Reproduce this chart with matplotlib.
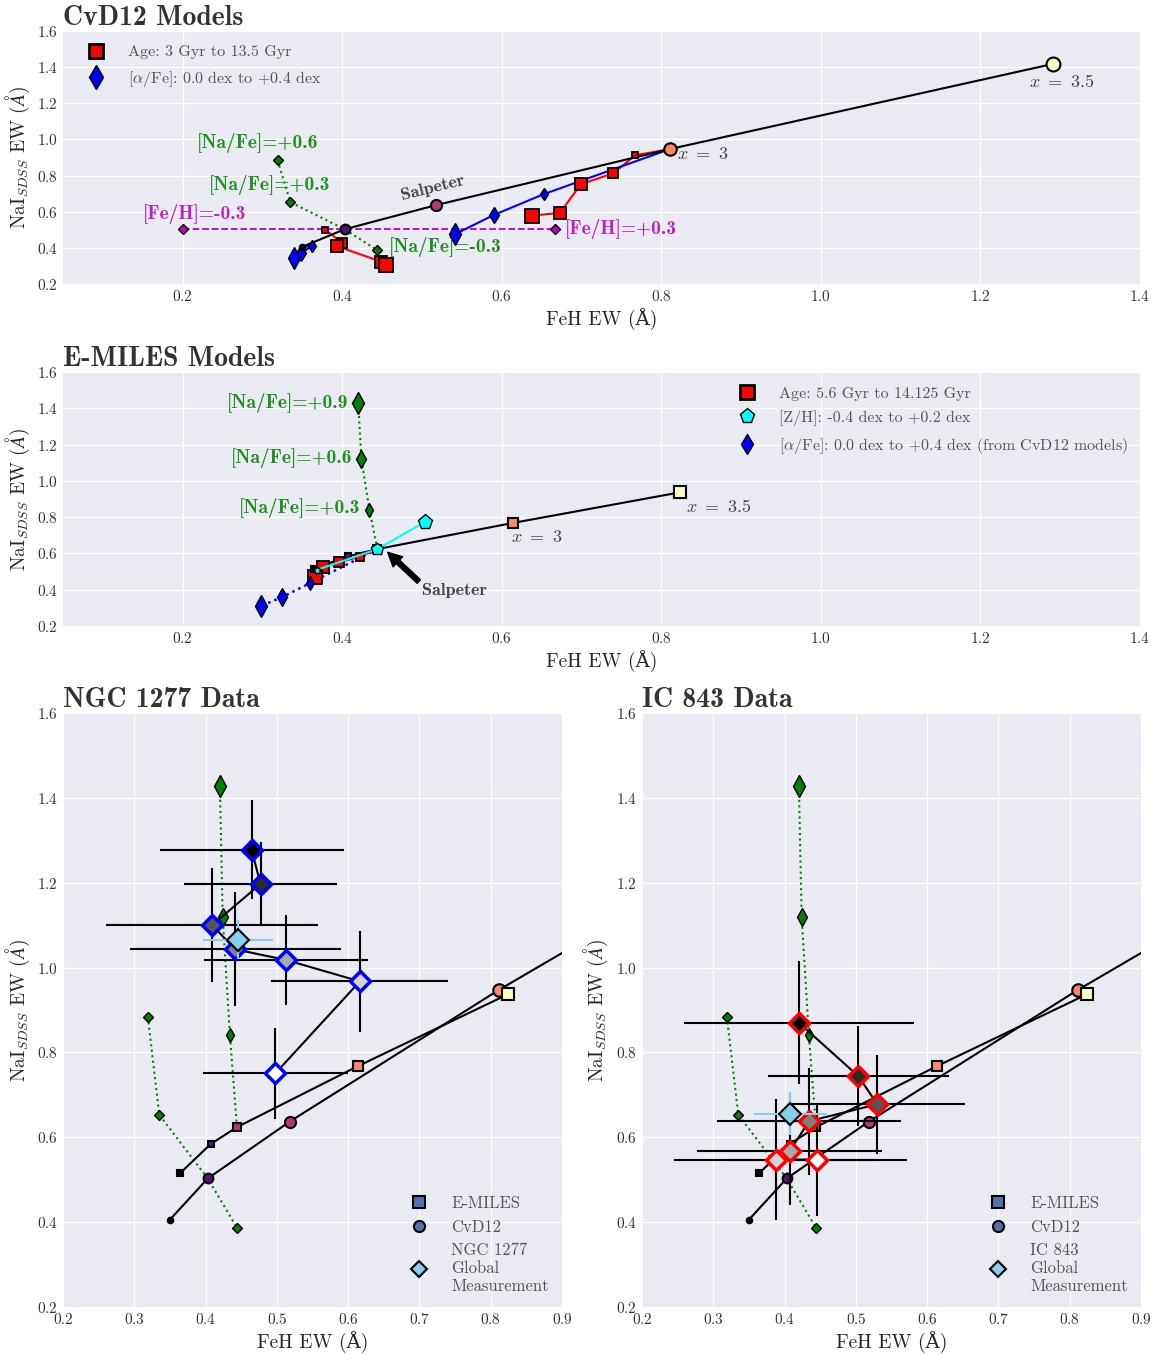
import numpy as np
import matplotlib
matplotlib.use('Agg')
import matplotlib.pyplot as plt
from matplotlib.lines import Line2D

plt.style.use('seaborn-v0_8-darkgrid')
plt.rcParams['font.family'] = ['cmr10', 'DejaVu Serif']
plt.rcParams['mathtext.fontset'] = 'cm'
plt.rcParams['axes.formatter.use_mathtext'] = True
plt.rcParams['axes.unicode_minus'] = False

# ---- CvD12 models ----
cvd_imf_feh = [0.350, 0.403, 0.518, 0.811, 1.291]
cvd_imf_nai = [0.406, 0.503, 0.637, 0.947, 1.418]
cvd_imf_ms = [4, 7, 8, 9, 10]

cvd_age1_feh = [0.379, 0.400, 0.393, 0.449, 0.455]
cvd_age1_nai = [0.499, 0.428, 0.410, 0.323, 0.305]
cvd_age2_feh = [0.767, 0.740, 0.699, 0.673, 0.638]
cvd_age2_nai = [0.912, 0.813, 0.752, 0.594, 0.578]
cvd_age_ms = [5, 7, 8, 9, 10]

cvd_alpha1_feh = [0.362, 0.348, 0.339]
cvd_alpha1_nai = [0.410, 0.370, 0.342]
cvd_alpha2_feh = [0.653, 0.590, 0.541]
cvd_alpha2_nai = [0.698, 0.582, 0.475]
cvd_alpha_ms = [6, 8, 11]

cvd_na_feh = [0.319, 0.335, 0.444]
cvd_na_nai = [0.884, 0.653, 0.387]
cvd_feh_feh = [0.200, 0.667]
cvd_feh_nai = [0.503, 0.503]

# ---- E-MILES models ----
em_imf_feh = [0.364, 0.407, 0.444, 0.614, 0.824]
em_imf_nai = [0.515, 0.584, 0.624, 0.768, 0.937]
em_imf_ms = [4, 5, 6, 7, 8]

em_age_feh = [0.422, 0.396, 0.376, 0.366]
em_age_nai = [0.582, 0.551, 0.524, 0.472]
em_age_ms = [6, 7, 9, 10]

em_zh_feh = [0.368, 0.504]
em_zh_nai = [0.509, 0.774]
em_zh_ms = [5, 11]

em_alpha_feh = [0.359, 0.325, 0.298]
em_alpha_nai = [0.435, 0.360, 0.310]
em_alpha_ms = [7, 9, 11]

em_na_feh = [0.434, 0.424, 0.420]
em_na_nai = [0.842, 1.119, 1.428]
em_na_ms = [7, 9, 11]

# ---- data ----
ngc_feh = [0.4645, 0.477, 0.409, 0.4416, 0.5126, 0.6164, 0.498]
ngc_nai = [1.278, 1.197, 1.100, 1.043, 1.018, 0.9675, 0.751]
ngc_feh_err = [0.129, 0.108, 0.149, 0.148, 0.115, 0.124, 0.102]
ngc_nai_err = [0.117, 0.098, 0.134, 0.134, 0.107, 0.119, 0.107]
ngc_glob = [0.445, 1.066, 0.049, 0.045]

ic_feh = [0.420, 0.5035, 0.530, 0.4344, 0.4073, 0.3873, 0.446]
ic_nai = [0.870, 0.744, 0.678, 0.638, 0.568, 0.5475, 0.5475]
ic_feh_err = [0.161, 0.127, 0.1225, 0.129, 0.130, 0.142, 0.125]
ic_nai_err = [0.145, 0.118, 0.117, 0.126, 0.128, 0.143, 0.132]
ic_glob = [0.408, 0.656, 0.051, 0.050]

imf_cols = plt.cm.magma([0.0, 0.25, 0.5, 0.75, 1.0])
grn_txt = '#1f8f1f'
mag_txt = '#c020c0'
lab_txt = '#444444'
ylab = r'NaI$_{SDSS}$ EW ($\AA$)'
xlab = 'FeH EW (Å)'


def markers(ax, x, y, ms, marker, fc, ec='k', mew=1.2, z=5):
    for i in range(len(x)):
        c = fc[i] if isinstance(fc, (list, np.ndarray)) else fc
        ax.plot(x[i], y[i], marker=marker, ms=ms[i], mfc=c, mec=ec, mew=mew,
                ls='none', zorder=z)


def cvd_imf(ax):
    ax.plot(cvd_imf_feh, cvd_imf_nai, 'k-', lw=1.5, zorder=3)
    markers(ax, cvd_imf_feh, cvd_imf_nai, cvd_imf_ms, 'o', list(imf_cols), mew=1.5, z=6)


def cvd_na(ax):
    xs = cvd_na_feh[:2] + [cvd_imf_feh[1]] + cvd_na_feh[2:]
    ys = cvd_na_nai[:2] + [cvd_imf_nai[1]] + cvd_na_nai[2:]
    ax.plot(xs, ys, ':', color='green', lw=1.5, zorder=2)
    markers(ax, cvd_na_feh, cvd_na_nai, [5, 5, 5], 'D', 'green', mew=1)


def em_imf(ax):
    ax.plot(em_imf_feh, em_imf_nai, 'k-', lw=1.5, zorder=3)
    markers(ax, em_imf_feh, em_imf_nai, em_imf_ms, 's', list(imf_cols), mew=1.5, z=6)


def em_na(ax):
    ax.plot([em_imf_feh[2]] + em_na_feh, [em_imf_nai[2]] + em_na_nai, ':',
            color='green', lw=1.5, zorder=2)
    markers(ax, em_na_feh, em_na_nai, em_na_ms, 'd', 'green', mew=1)


def grey_legend(leg):
    for t in leg.get_texts():
        t.set_color('#555555')


fig = plt.figure(figsize=(11.61, 13.55), dpi=100)
ax1 = fig.add_axes([0.0543, 0.7904, 0.9276, 0.1867])
ax2 = fig.add_axes([0.0543, 0.5380, 0.9276, 0.1875])
ax3 = fig.add_axes([0.0543, 0.0354, 0.4298, 0.4384])
ax4 = fig.add_axes([0.5530, 0.0354, 0.4298, 0.4384])

title_kw = dict(loc='left', fontfamily='cmb10', fontsize=20, color='#333333', pad=3)
bold = dict(fontfamily='cmb10', fontsize=14)

# ---------------- CvD12 panel ----------------
ax = ax1
ax.plot(cvd_feh_feh[:1] + [cvd_imf_feh[1]] + cvd_feh_feh[1:], [0.503] * 3, '--',
        color='m', lw=1.3, zorder=2)
markers(ax, cvd_feh_feh, cvd_feh_nai, [5, 5], 'D', 'm', mew=1)
cvd_na(ax)
ax.plot(cvd_age1_feh, cvd_age1_nai, 'r-', lw=1.5, zorder=3)
ax.plot([cvd_imf_feh[3]] + cvd_age2_feh, [cvd_imf_nai[3]] + cvd_age2_nai, 'r-', lw=1.5, zorder=3)
ax.plot([cvd_imf_feh[0]] + cvd_alpha1_feh, [cvd_imf_nai[0]] + cvd_alpha1_nai, 'b-', lw=1.5, zorder=3)
ax.plot([cvd_imf_feh[3]] + cvd_alpha2_feh, [cvd_imf_nai[3]] + cvd_alpha2_nai, 'b-', lw=1.5, zorder=3)
cvd_imf(ax)
markers(ax, cvd_age1_feh, cvd_age1_nai, cvd_age_ms, 's', 'red', mew=1.3)
markers(ax, cvd_age2_feh, cvd_age2_nai, cvd_age_ms, 's', 'red', mew=1.3)
markers(ax, cvd_alpha1_feh, cvd_alpha1_nai, cvd_alpha_ms, 'd', 'blue', mew=1)
markers(ax, cvd_alpha2_feh, cvd_alpha2_nai, cvd_alpha_ms, 'd', 'blue', mew=1)

ax.text(0.294, 0.980, '[Na/Fe]=+0.6', color=grn_txt, ha='center', va='center', **bold)
ax.text(0.309, 0.748, '[Na/Fe]=+0.3', color=grn_txt, ha='center', va='center', **bold)
ax.text(0.529, 0.405, '[Na/Fe]=-0.3', color=grn_txt, ha='center', va='center', **bold)
ax.text(0.215, 0.587, '[Fe/H]=-0.3', color=mag_txt, ha='center', va='center', **bold)
ax.text(0.749, 0.504, '[Fe/H]=+0.3', color=mag_txt, ha='center', va='center', **bold)
ax.text(0.513, 0.731, 'Salpeter', color=lab_txt, ha='center', va='center', rotation=14,
        fontfamily='cmb10', fontsize=13)
ax.text(0.852, 0.919, r'$x\ =\ 3$', color=lab_txt, ha='center', va='center', fontsize=13)
ax.text(1.302, 1.323, r'$x\ =\ \mathbf{3.5}$', color=lab_txt, ha='center', va='center', fontsize=13)

h1 = [Line2D([], [], marker='s', ls='none', mfc='red', mec='k', mew=2, ms=10),
      Line2D([], [], marker='d', ls='none', mfc='blue', mec='k', mew=1, ms=12)]
leg = ax.legend(h1, ['Age: 3 Gyr to 13.5 Gyr', r'[$\alpha$/Fe]: 0.0 dex to +0.4 dex'],
                loc='upper left', bbox_to_anchor=(0.012, 0.992), fontsize=11.5,
                frameon=False, handlelength=1.0, handletextpad=1.5,
                labelspacing=0.6, borderaxespad=0.35)
grey_legend(leg)
ax.set_xlim(0.05, 1.4)
ax.set_ylim(0.2, 1.6)
ax.set_title('CvD12 Models', **title_kw)

# ---------------- E-MILES panel ----------------
ax = ax2
em_na(ax)
base_x, base_y = em_imf_feh[2], em_imf_nai[2]
ax.plot([base_x] + em_alpha_feh, [base_y] + em_alpha_nai, ':', color='blue', lw=1.8, zorder=3)
ax.plot([base_x] + em_age_feh, [base_y] + em_age_nai, 'r-', lw=1.5, zorder=3)
em_imf(ax)
markers(ax, em_age_feh, em_age_nai, em_age_ms, 's', 'red', mew=1.3)
markers(ax, em_alpha_feh, em_alpha_nai, em_alpha_ms, 'd', 'blue', mew=1)
ax.plot([em_zh_feh[0], base_x, em_zh_feh[1]], [em_zh_nai[0], base_y, em_zh_nai[1]],
        '-', color='cyan', lw=1.5, zorder=7)
markers(ax, em_zh_feh + [base_x], em_zh_nai + [base_y], em_zh_ms + [9], 'p', 'cyan', mew=1, z=8)

ax.text(0.408, 1.428, '[Na/Fe]=+0.9', color=grn_txt, ha='right', va='center', **bold)
ax.text(0.413, 1.126, '[Na/Fe]=+0.6', color=grn_txt, ha='right', va='center', **bold)
ax.text(0.423, 0.850, '[Na/Fe]=+0.3', color=grn_txt, ha='right', va='center', **bold)
ax.annotate('', xy=(0.457, 0.606), xytext=(0.496, 0.445),
            arrowprops=dict(facecolor='black', edgecolor='black', width=3.5, headwidth=10,
                            headlength=10, shrink=0.0))
ax.text(0.541, 0.398, 'Salpeter', color=lab_txt, ha='center', va='center',
        fontfamily='cmb10', fontsize=13)
ax.text(0.644, 0.690, r'$x\ =\ 3$', color=lab_txt, ha='center', va='center', fontsize=13)
ax.text(0.872, 0.856, r'$x\ =\ \mathbf{3.5}$', color=lab_txt, ha='center', va='center', fontsize=13)

h2 = [Line2D([], [], marker='s', ls='none', mfc='red', mec='k', mew=2, ms=10),
      Line2D([], [], marker='p', ls='none', mfc='cyan', mec='k', mew=1, ms=11),
      Line2D([], [], marker='d', ls='none', mfc='blue', mec='k', mew=1, ms=10)]
leg = ax.legend(h2, ['Age: 5.6 Gyr to 14.125 Gyr', '[Z/H]: -0.4 dex to +0.2 dex',
                     r'[$\alpha$/Fe]: 0.0 dex to +0.4 dex (from CvD12 models)'],
                loc='upper right', bbox_to_anchor=(1.0, 0.99), fontsize=11.5,
                frameon=False, handlelength=1.0, handletextpad=1.5,
                labelspacing=0.6, borderaxespad=0.35)
grey_legend(leg)
ax.set_xlim(0.05, 1.4)
ax.set_ylim(0.2, 1.6)
ax.set_title('E-MILES Models', **title_kw)

for ax in (ax1, ax2):
    ax.set_xlabel(xlab, fontsize=14)
    ax.set_ylabel(ylab, fontsize=14)
    ax.set_xticks([0.2, 0.4, 0.6, 0.8, 1.0, 1.2, 1.4])
    ax.set_yticks([0.2, 0.4, 0.6, 0.8, 1.0, 1.2, 1.4, 1.6])


# ---------------- data panels ----------------
def data_panel(ax, fx, fy, ex, ey, glob, edge, title, name):
    cvd_na(ax)
    em_na(ax)
    cvd_imf(ax)
    em_imf(ax)
    ax.errorbar(fx, fy, xerr=ex, yerr=ey, fmt='none', ecolor='k', elinewidth=1.5, zorder=8)
    ax.plot(fx, fy, 'k-', lw=1.5, zorder=8)
    grays = [str(g) for g in np.linspace(0, 1, len(fx))]
    markers(ax, fx, fy, [10] * len(fx), 'D', grays, ec=edge, mew=2.5, z=9)
    ax.errorbar([glob[0]], [glob[1]], xerr=[glob[2]], yerr=[glob[3]], fmt='none',
                ecolor='skyblue', elinewidth=1.5, zorder=10)
    ax.plot(glob[0], glob[1], 'D', ms=11, mfc='skyblue', mec='k', mew=1.5, zorder=11)
    h = [Line2D([], [], marker='s', ls='none', mfc='#4C72B0', mec='k', mew=1.5, ms=8),
         Line2D([], [], marker='o', ls='none', mfc='#4C72B0', mec='k', mew=1.5, ms=8),
         Line2D([], [], marker='D', ls='none', mfc='skyblue', mec='k', mew=1.5, ms=8)]
    leg = ax.legend(h, ['E-MILES', 'CvD12', name + '\nGlobal\nMeasurement'],
                    loc='lower right', fontsize=12, frameon=False, handlelength=1.6,
                    handletextpad=1.1, borderaxespad=0.4)
    grey_legend(leg)
    ax.set_xlim(0.2, 0.9)
    ax.set_ylim(0.2, 1.6)
    ax.set_xticks([0.2, 0.3, 0.4, 0.5, 0.6, 0.7, 0.8, 0.9])
    ax.set_yticks([0.2, 0.4, 0.6, 0.8, 1.0, 1.2, 1.4, 1.6])
    ax.set_xlabel(xlab, fontsize=14)
    ax.set_ylabel(ylab, fontsize=14)
    ax.set_title(title, **title_kw)


data_panel(ax3, ngc_feh, ngc_nai, ngc_feh_err, ngc_nai_err, ngc_glob, 'blue',
           'NGC 1277 Data', 'NGC 1277')
data_panel(ax4, ic_feh, ic_nai, ic_feh_err, ic_nai_err, ic_glob, 'red',
           'IC 843 Data', 'IC 843')

for ax in (ax1, ax2, ax3, ax4):
    ax.tick_params(labelsize=11, colors='#333333')

fig.savefig('out.png', dpi=100)
